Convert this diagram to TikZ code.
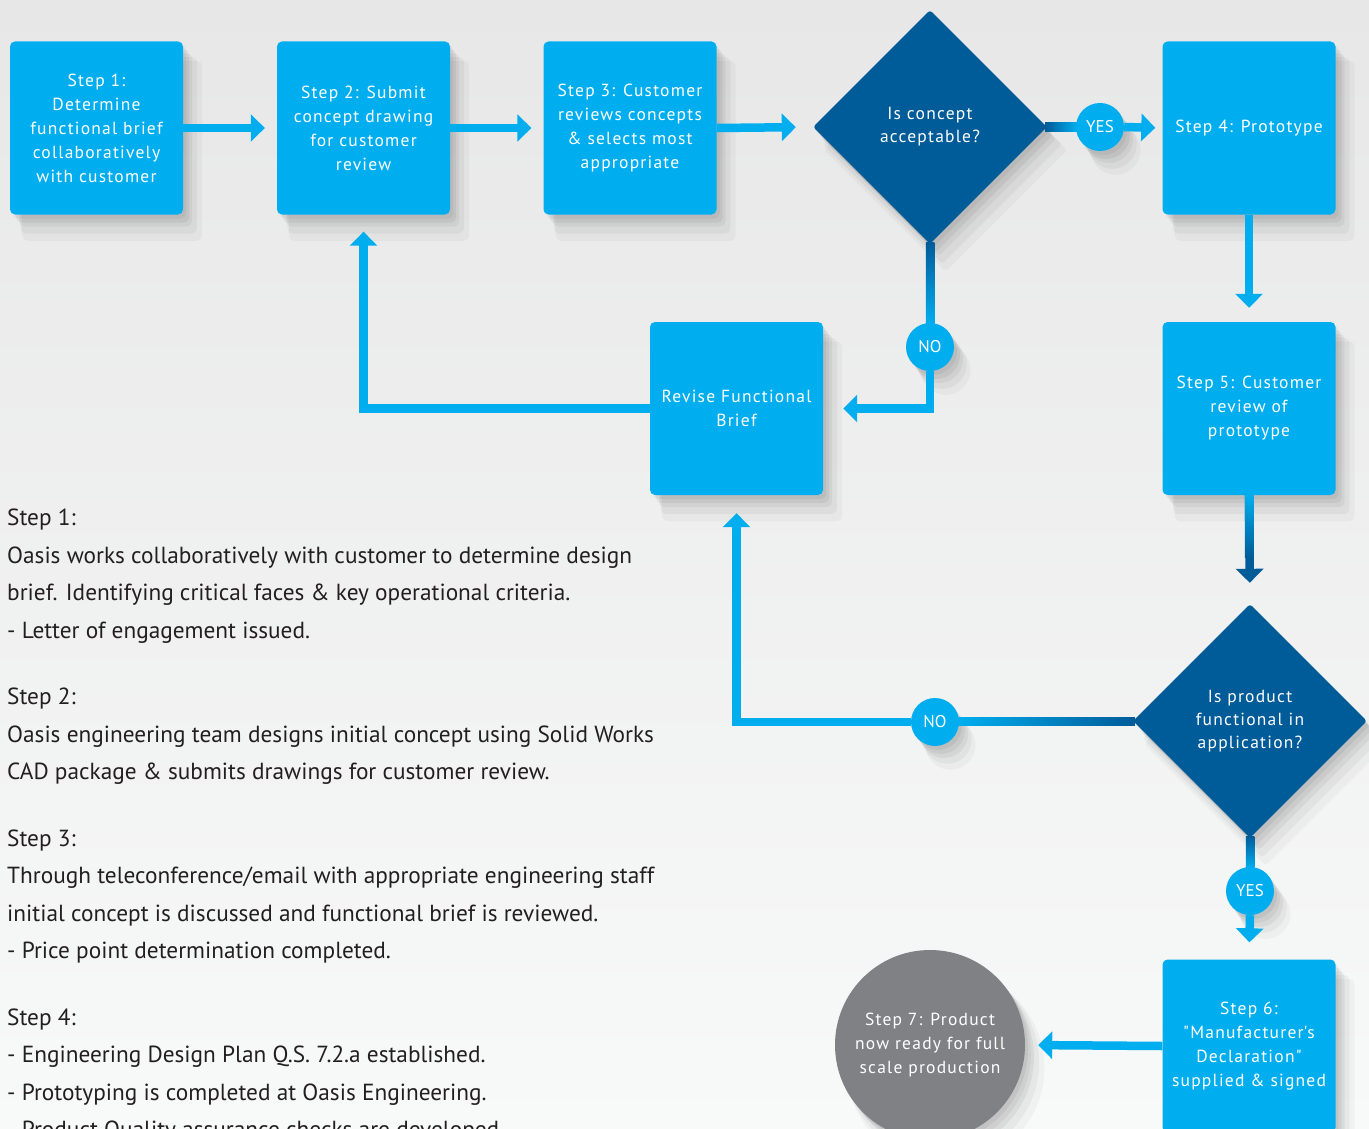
\documentclass[tikz,border=0pt]{standalone}
\usepackage{fontspec}
\setmainfont{PT Sans}
\newfontfamily\spacedfont[LetterSpace=7.0]{PT Sans}
\usetikzlibrary{arrows.meta,shapes.geometric,shadows,calc}

\definecolor{stepcyan}{RGB}{0,174,239}
\definecolor{askblue}{RGB}{0,91,153}
\definecolor{donegray}{RGB}{128,129,133}
\definecolor{paperhi}{RGB}{231,231,232}
\definecolor{paperlo}{RGB}{248,249,249}
\definecolor{inkblack}{RGB}{35,31,32}

\tikzset{
    soft/.style={
        general shadow={shadow xshift=3pt, shadow yshift=-4pt, fill=black, opacity=0.05},
        general shadow={shadow xshift=6pt, shadow yshift=-8pt, fill=black, opacity=0.05},
        general shadow={shadow xshift=9pt, shadow yshift=-12pt, fill=black, opacity=0.05},
        general shadow={shadow xshift=12pt, shadow yshift=-17pt, shadow scale=1.02, fill=black, opacity=0.04},
        general shadow={shadow xshift=15pt, shadow yshift=-22pt, shadow scale=1.04, fill=black, opacity=0.03}},
    stepbox/.style={soft, rectangle, rounded corners=5pt, fill=stepcyan,
        text=white, minimum width=173pt, minimum height=173pt, inner sep=0pt,
        align=center, font=\spacedfont\fontsize{17.5}{24}\selectfont},
    askbox/.style={soft, diamond, aspect=1, rounded corners=3pt, fill=askblue,
        text=white, minimum size=234pt, inner sep=0pt, align=center,
        font=\spacedfont\fontsize{17.5}{23}\selectfont},
    answer/.style={soft, circle, fill=stepcyan, text=white, minimum size=48pt,
        inner sep=0pt, font=\fontsize{17}{20}\selectfont},
    donecircle/.style={soft, circle, fill=donegray, text=white,
        minimum size=190pt, inner sep=0pt, align=center,
        font=\spacedfont\fontsize{17.5}{24}\selectfont},
    flow/.style={draw=stepcyan, line width=8.5pt,
        -{Triangle[width=27pt,length=14pt]}},
    notes/.style={anchor=north west, inner sep=0pt, align=left,
        text=inkblack, font=\fontsize{23.3}{37.5}\selectfont},
}

\begin{document}
\begin{tikzpicture}[x=1pt, y=-1pt]
            \def \xone   {96.5}
            \def \xtwo   {363.5}
            \def \xthree {630}
            \def \xask   {930}
            \def \xyes   {1100}
            \def \xright {1249}
            \def \xrev   {736.5}
            \def \xnotwo {935}

            \def \ytop   {128}
            \def \ynoone {347}
            \def \ymid   {408.5}
            \def \yasktwo {721}
            \def \yyestwo {891}
            \def \ylast  {1046}

            \useasboundingbox (0,0) rectangle (1369,1129);
            \clip (0,0) rectangle (1369,1129);
            \shade [top color=paperhi, bottom color=paperlo] (0,0) rectangle (1369,1129);
% top row
            \node [stepbox] (s1) at (\xone, \ytop) {Step 1:\\Determine\\functional brief\\collaboratively\\with customer};
            \node [stepbox] (s2) at (\xtwo, \ytop) {Step 2: Submit\\concept drawing\\for customer\\review};
            \node [stepbox] (s3) at (\xthree, \ytop) {Step 3: Customer\\reviews concepts\\\& selects most\\appropriate};
            \node [askbox] (d1) at (\xask, 127) {Is concept\\acceptable?};
            \node [answer] (yes1) at (\xyes, 127) {YES};
            \node [stepbox] (s4) at (\xright, \ytop) {Step 4: Prototype};
% middle
            \node [answer] (no1) at (\xask, \ynoone) {NO};
            \node [stepbox] (rev) at (\xrev, \ymid) {Revise Functional\\Brief};
            \node [stepbox] (s5) at (\xright, \ymid) {Step 5: Customer\\review of\\prototype};
            \node [askbox] (d2) at (1250, \yasktwo) {Is product\\functional in\\application?};
            \node [answer] (no2) at (\xnotwo, 722) {NO};
            \node [answer] (yes2) at (1250, \yyestwo) {YES};
% bottom
            \node [stepbox] (s6) at (\xright, \ylast) {Step 6:\\"Manufacturer\textquotesingle s\\Declaration"\\supplied \& signed};
            \node [donecircle] (s7) at (\xask, 1045) {Step 7: Product\\now ready for full\\scale production};
% arrows
            \draw [flow, shorten >=12pt] (s1.east) -- (s2.west);
            \draw [flow, shorten >=12pt] (s2.east) -- (s3.west);
            \draw [flow, shorten >=17pt] (s3.east) -- (d1.west);
            \shade [left color=askblue, right color=stepcyan] ($(d1.east)+(-2,-4.25)$) rectangle ($(yes1.west)+(1,4.25)$);
            \draw [flow, shorten >=7pt] (yes1.east) -- (s4.west);
            \draw [flow, shorten >=14pt] (s4.south) -- (s5.north);
            \draw [flow, draw=askblue, shorten >=21pt] (s5.south) -- (d2.north);
            \shade [top color=stepcyan, bottom color=askblue] ($(s5.south)+(-4.25,0)$) rectangle ($(s5.south)+(4.25,62)$);
            \shade [top color=askblue, bottom color=stepcyan] ($(d1.south)+(-4.25,-2)$) rectangle ($(no1.north)+(4.25,1)$);
            \draw [flow, shorten >=20pt] (no1.south) |- (rev.east);
            \draw [flow, shorten >=17pt] (rev.west) -| (s2.south);
            \shade [left color=stepcyan, right color=askblue] ($(no2.east)+(-1,-4.25)$) rectangle ($(d2.west)+(2,4.25)$);
            \draw [flow, shorten >=18pt] (no2.west) -| (rev.south);
            \shade [top color=askblue, bottom color=stepcyan] ($(d2.south)+(-4.25,-2)$) rectangle ($(yes2.north)+(4.25,1)$);
            \draw [flow, shorten >=17pt] (yes2.south) -- (s6.north);
            \draw [flow, shorten >=13pt] (s6.west) -- (s7.east);
% notes
            \node [notes] (brief) at (7, 509) {Step 1:\\
                Oasis works collaboratively with customer to determine design\\
                brief. Identifying critical faces \& key operational criteria.\\
                - Letter of engagement issued.\\[29pt]
                Step 2:\\
                Oasis engineering team designs initial concept using Solid Works\\
                CAD package \& submits drawings for customer review.\\[29pt]
                Step 3:\\
                Through teleconference/email with appropriate engineering staff\\
                initial concept is discussed and functional brief is reviewed.\\
                - Price point determination completed.\\[29pt]
                Step 4:\\
                - Engineering Design Plan Q.S. 7.2.a established.\\
                - Prototyping is completed at Oasis Engineering.\\
                - Product Quality assurance checks are developed.};
\end{tikzpicture}
\end{document}
